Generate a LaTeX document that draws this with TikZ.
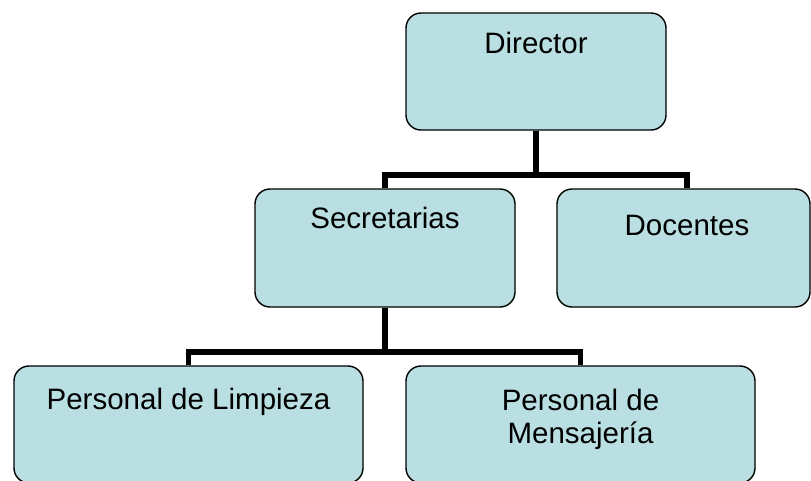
\documentclass[tikz,border=0pt]{standalone}
\usepackage{fontspec}
\setmainfont{Liberation Sans}
\definecolor{boxfill}{HTML}{B9DFE2}
\begin{document}
\begin{tikzpicture}[x=1pt,y=-1pt,
  orgbox/.style={draw=black, line width=1.4pt, fill=boxfill, rounded corners=15pt, inner sep=0pt},
  lbl/.style={anchor=base, inner sep=0pt, font=\fontsize{29.5}{33}\selectfont, align=center},
  conn/.style={draw=black, line width=5.8pt, line join=miter}]
\useasboundingbox (0,0) rectangle (811,480);
\clip (0,0) rectangle (811,480);
\fill[white] (0,0) rectangle (811,480);
% boxes
\node[orgbox, minimum width=260pt, minimum height=117pt] (dir) at (536,71.5) {};
\node[orgbox, minimum width=260pt, minimum height=118pt] (sec) at (385,248) {};
\node[orgbox, minimum width=253pt, minimum height=118pt] (doc) at (683.5,248) {};
\node[orgbox, minimum width=349pt, minimum height=117pt] (lim) at (188.5,424.5) {};
\node[orgbox, minimum width=349pt, minimum height=117pt] (men) at (580.5,424.5) {};
% labels
\node[lbl] (dirt) at (536,53) {Director};
\node[lbl] (sect) at (385,228) {Secretarias};
\node[lbl] (doct) at (687,235) {Docentes};
\node[lbl] (limt) at (188.5,409) {Personal de Limpieza};
\node[lbl] (ment1) at (580.5,410) {Personal de};
\node[lbl] (ment2) at (580.5,443) {Mensajería};
% connectors
\coordinate (j1) at (536,175);
\coordinate (j2) at (385,352);
\coordinate (dtop) at (doct |- doc.north);
\draw[conn] (dir.south) -- (j1);
\draw[conn] (sec.north) |- (j1) -| (dtop);
\draw[conn] (sec.south) -- (j2);
\draw[conn] (lim.north) |- (j2) -| (men.north);
\end{tikzpicture}
\end{document}
